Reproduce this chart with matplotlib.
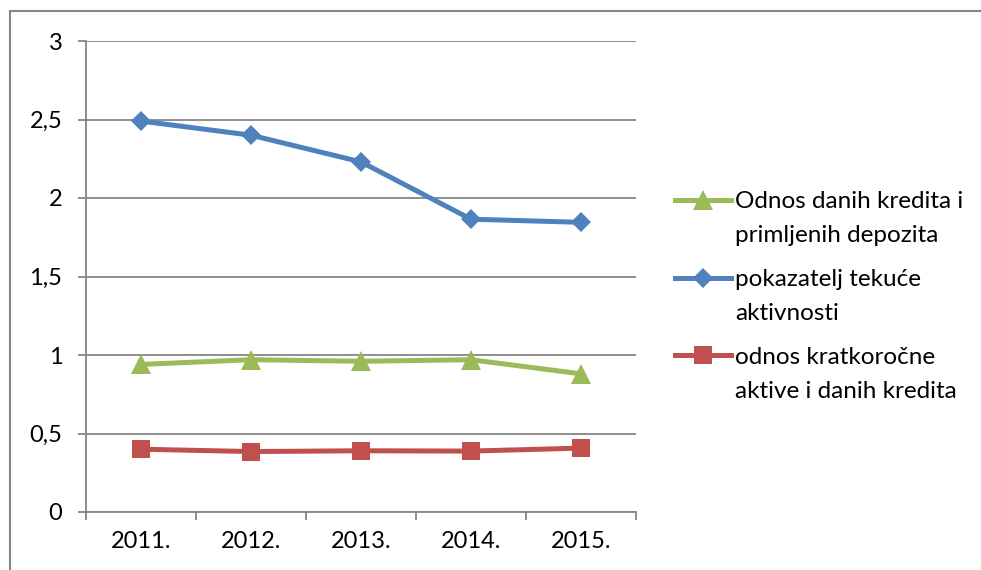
import numpy as np
import matplotlib.pyplot as plt
from matplotlib.lines import Line2D
from matplotlib.patches import Rectangle

plt.rcParams['font.family'] = ['Lato', 'DejaVu Sans']

# podaci
godine = ['2011.', '2012.', '2013.', '2014.', '2015.']
odnos_kredita_depozita = [0.94, 0.97, 0.96, 0.97, 0.88]
tekuca_aktivnost = [2.49, 2.40, 2.23, 1.865, 1.845]
kratkorocna_aktiva = [0.40, 0.385, 0.39, 0.388, 0.407]

labele = ['Odnos danih kredita i\nprimljenih depozita',
          'pokazatelj tekuće\naktivnosti',
          'odnos kratkoročne\naktive i danih kredita']
y_tickovi = [0, 0.5, 1, 1.5, 2, 2.5, 3]
y_labele = ['0', '0,5', '1', '1,5', '2', '2,5', '3']

zelena = '#9BBB59'
plava = '#4F81BD'
crvena = '#C0504D'
siva = '#868686'

fig = plt.figure(figsize=(9.81, 5.70), dpi=100)
ax = fig.add_axes([86/981, 58/570, 550/981, 471/570])

# okvir grafikona
fig.patches.append(Rectangle((10/981, -0.05), 1.2, (570-11)/570 + 0.05,
                             transform=fig.transFigure, fill=False,
                             edgecolor=siva, linewidth=1.5))

x = np.arange(len(godine))
serije = [
    (odnos_kredita_depozita, zelena, '^', 15),
    (tekuca_aktivnost, plava, 'D', 10),
    (kratkorocna_aktiva, crvena, 's', 13.5),
]
for vals, boja, mk, ms in serije:
    ax.plot(x, vals, color=boja, linewidth=3.6, marker=mk, markersize=ms,
            markeredgewidth=0, zorder=3)

ax.set_xlim(-0.5, len(godine) - 0.5)
ax.set_ylim(0, 3)
ax.set_yticks(y_tickovi)
ax.set_yticklabels(y_labele)
ax.set_xticks(x)
ax.set_xticklabels(godine)
ax.set_xticks(np.arange(-0.5, len(godine)), minor=True)

ax.grid(axis='y', color=siva, linewidth=1.3)
ax.set_axisbelow(True)
for s in ['top', 'right']:
    ax.spines[s].set_visible(False)
for s in ['left', 'bottom']:
    ax.spines[s].set_color(siva)
    ax.spines[s].set_linewidth(1.3)

ax.tick_params(axis='y', length=6, width=1.3, color=siva, labelsize=17, pad=11)
ax.tick_params(axis='x', which='major', length=0, labelsize=17, pad=14)
ax.tick_params(axis='x', which='minor', length=6, width=1.3, color=siva)

# legenda (oznaka poravnata s prvim redom teksta, kao u Excelu)
y0 = (570 - 200) / 570
korak = 77.5 / 570
razmak = 34 / 570
for i, (lab, (vals, boja, mk, ms)) in enumerate(zip(labele, serije)):
    yy = y0 - i * korak
    fig.add_artist(Line2D([675/981, 731/981], [yy, yy], color=boja,
                          linewidth=3.6, transform=fig.transFigure))
    fig.add_artist(Line2D([703/981], [yy], color=boja, marker=mk,
                          markersize=ms, markeredgewidth=0,
                          transform=fig.transFigure))
    for j, red in enumerate(lab.split('\n')):
        fig.text(735/981, yy - j * razmak, red, fontsize=17.5,
                 va='center_baseline', ha='left')

fig.savefig('out.png', dpi=100)
